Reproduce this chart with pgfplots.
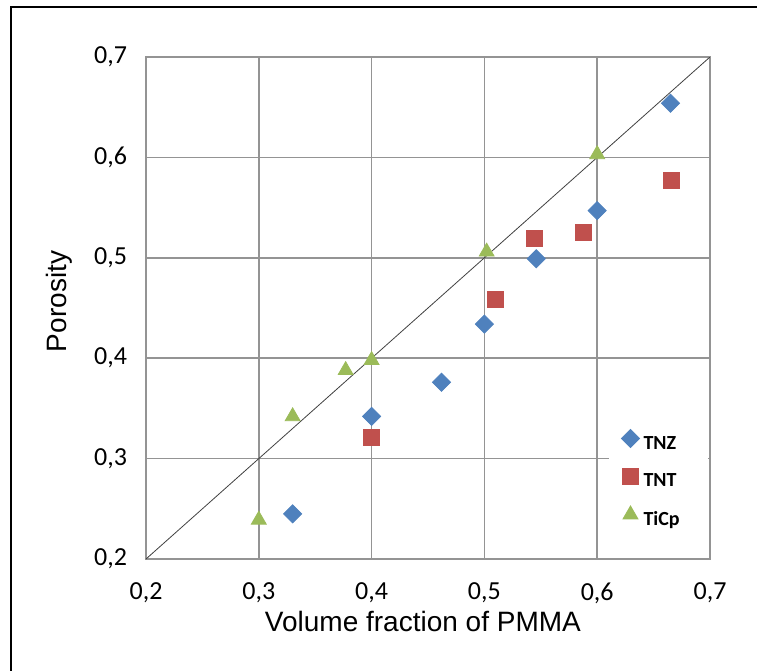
\documentclass[border=0pt]{standalone}
\usepackage{pgfplots}
\pgfplotsset{compat=1.18}
\usepackage{fontspec}
\setmainfont{Carlito}
\newfontfamily\arialfont{Liberation Sans}
\definecolor{cblue}{HTML}{4F81BD}
\definecolor{cred}{HTML}{C0504D}
\definecolor{cgreen}{HTML}{9BBB59}
\pgfplotsset{mylegimg/.style={legend image code/.code={\draw[##1] plot coordinates {(0pt,2.9pt)};}}}
\begin{document}
\begin{tikzpicture}
\useasboundingbox (0pt,0pt) rectangle (378.5pt,335.5pt);
\draw[line width=0.8pt] (5.5pt,-20pt) rectangle (420pt,332pt);
\begin{axis}[
  at={(73pt,56pt)}, anchor=south west,
  scale only axis, width=282pt, height=251pt,
  xmin=0.2, xmax=0.7, ymin=0.2, ymax=0.7,
  xtick={0.2,0.3,0.4,0.5,0.6,0.7},
  ytick={0.2,0.3,0.4,0.5,0.6,0.7},
  grid=major,
  major grid style={color=black!42, line width=0.75pt},
  axis line style={color=black!42, line width=0.75pt},
  major tick length=0pt,
  /pgf/number format/use comma,
  /pgf/number format/fixed,
  /pgf/number format/fixed zerofill,
  /pgf/number format/precision=1,
  /pgf/number format/assume math mode=true,
  tick label style={font=\fontsize{13}{13}\selectfont},
  xticklabel style={yshift=-8.5pt},
  yticklabel style={xshift=-6pt},
  label style={font=\arialfont\fontsize{14}{14}\selectfont},
  xlabel={Volume fraction of PMMA},
  ylabel={Porosity},
  xlabel style={at={(rel axis cs:0.491,-0.1454)}, anchor=base},
  ylabel style={at={(rel axis cs:-0.1418,0.513)}, anchor=base},
  legend style={at={(0.821,0.269)}, anchor=north west, draw=none, fill=none,
    font=\bfseries\fontsize{10}{10}\selectfont, row sep=6pt,
    inner xsep=6pt, inner ysep=2.5pt},
  legend cell align=left,
]
\addplot[black!75, line width=0.4pt, forget plot] coordinates {(0.2,0.2) (0.7,0.7)};
\addplot[only marks, mark=square*, mark size=3.2pt, color=cblue,
  mark options={rotate=45, draw=cblue, fill=cblue}, mylegimg]
  coordinates {(0.33,0.245) (0.40,0.342) (0.462,0.376) (0.50,0.434) (0.546,0.499) (0.60,0.547) (0.665,0.654)};
\addlegendentry{TNZ}
\addplot[only marks, mark=square*, mark size=4pt, color=cred,
  mark options={draw=cred, fill=cred}, mylegimg]
  coordinates {(0.40,0.321) (0.51,0.459) (0.544,0.519) (0.588,0.525) (0.666,0.577)};
\addlegendentry{TNT}
\addplot[only marks, mark=triangle*, mark size=4.3pt, color=cgreen,
  mark options={draw=cgreen, fill=cgreen}, mylegimg]
  coordinates {(0.30,0.239) (0.33,0.342) (0.377,0.388) (0.40,0.398) (0.502,0.506) (0.60,0.603)};
\addlegendentry{TiCp}
\fill[white] (rel axis cs:0.821,0.044) rectangle (rel axis cs:0.996,0.269);
\end{axis}
\end{tikzpicture}
\end{document}
